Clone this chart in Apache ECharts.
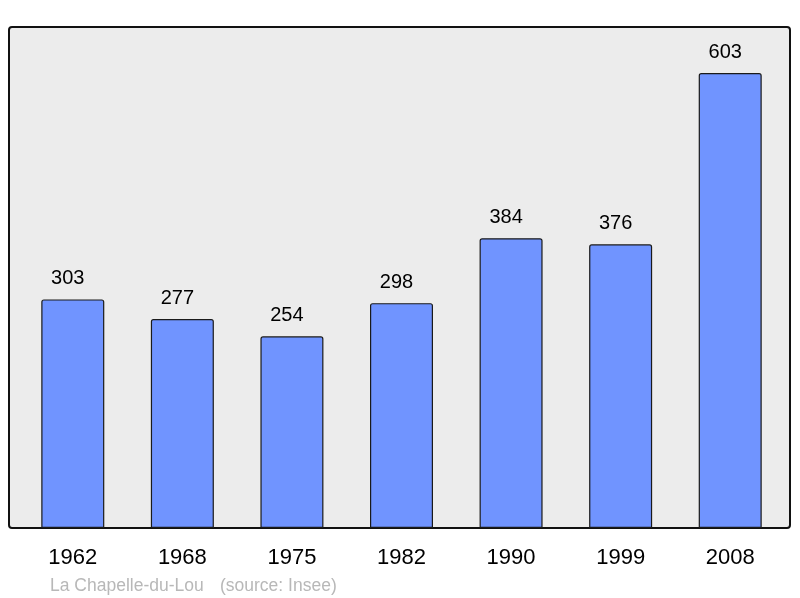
<!DOCTYPE html>
<html>
<head>
<meta charset="utf-8">
<script src="https://cdn.jsdelivr.net/npm/echarts@6/dist/echarts.min.js"></script>
<style>html,body{margin:0;padding:0;background:#fff}#c{width:800px;height:598px}</style>
</head>
<body>
<div id="c"></div>
<script>
const years = ['1962','1968','1975','1982','1990','1999','2008'];
const population = [303, 277, 254, 298, 384, 376, 603];
const commune = 'La Chapelle-du-Lou';
const source = '(source: Insee)';

const chart = echarts.init(document.getElementById('c'), null, {renderer: 'canvas'});
chart.setOption({
  animation: false,
  backgroundColor: '#ffffff',
  graphic: [
    {type: 'rect', z: -10, shape: {x: 9, y: 27, width: 781, height: 501, r: 3},
     style: {fill: '#ececec', stroke: '#111', lineWidth: 2}},
    {type: 'text', left: 50, top: 577,
     style: {text: commune, fill: '#b8b8b8', font: '17.5px "Liberation Sans", Arial, sans-serif'}},
    {type: 'text', left: 220, top: 577,
     style: {text: source, fill: '#b8b8b8', font: '17.5px "Liberation Sans", Arial, sans-serif'}}
  ],
  grid: {left: 18, width: 767, top: 27, bottom: 70},
  xAxis: {
    type: 'category', data: years,
    axisLine: {show: false}, axisTick: {show: false},
    axisLabel: {color: '#000', fontSize: 22, fontFamily: 'Liberation Sans', margin: 19}
  },
  yAxis: {type: 'value', min: 0, max: 664, show: false, splitLine: {show: false}},
  series: [{
    type: 'bar', data: population, barWidth: 63,
    itemStyle: {color: '#7094ff', borderColor: '#1a1a1a', borderWidth: 1.2, borderRadius: [2,2,0,0]},
    label: {show: true, position: 'top', distance: 11, offset: [-5, 0], color: '#000', fontSize: 20, fontFamily: 'Liberation Sans'}
  }]
});
</script>
</body>
</html>
